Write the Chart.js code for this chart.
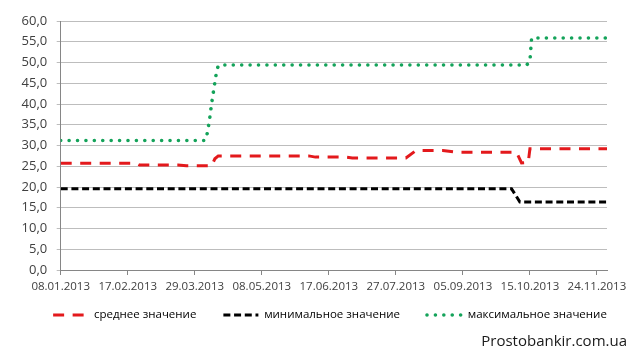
<!DOCTYPE html>
<html><head><meta charset="utf-8">
<script src="https://cdn.jsdelivr.net/npm/chart.js@4/dist/chart.umd.min.js"></script>
<style>
html,body{margin:0;padding:0;background:#fff}
#wrap{width:640px;height:359px;position:relative}
#wm{position:absolute;right:13px;top:331px;font:15px/18px 'Open Sans','Liberation Sans',sans-serif;color:#1a1a1a;white-space:nowrap}
</style>
</head><body><div id="wrap"><canvas id="c" width="640" height="359"></canvas><div id="wm"></div></div>
<script>
const startDate = '08.01.2013';
const endDate = '30.11.2013';
const tickLabels = ['08.01.2013','17.02.2013','29.03.2013','08.05.2013','17.06.2013','27.07.2013','05.09.2013','15.10.2013','24.11.2013'];
const seriesNames = ['среднее значение','минимальное значение','максимальное значение'];

const avgDates  = ['08.01.2013','22.02.2013','24.02.2013','19.03.2013','24.03.2013','08.04.2013','10.04.2013','12.04.2013','05.06.2013','09.06.2013','27.06.2013','01.07.2013','02.08.2013','08.08.2013','24.08.2013','01.09.2013','07.10.2013','10.10.2013','14.10.2013','15.10.2013','30.11.2013'];
const avgValues = [25.7,25.7,25.3,25.3,25.1,25.1,26.8,27.5,27.5,27.2,27.2,27.0,27.0,28.8,28.8,28.4,28.4,25.8,25.9,29.2,29.2];

const minDates  = ['08.01.2013','04.10.2013','09.10.2013','30.11.2013'];
const minValues = [19.6,19.6,16.4,16.4];

const maxDates  = ['08.01.2013','04.04.2013','05.04.2013','06.04.2013','07.04.2013','08.04.2013','09.04.2013','10.04.2013','11.04.2013','12.04.2013','13.04.2013','13.10.2013','14.10.2013','15.10.2013','16.10.2013','30.11.2013'];
const maxValues = [31.2,31.2,32.0,34.2,36.8,40.0,42.6,45.2,47.8,49.2,49.4,49.4,49.8,50.3,55.9,55.9];

const watermark = 'Prostobankir.com.ua';
document.getElementById('wm').textContent = watermark;

function dayIndex(s){
  const p = s.split('.').map(Number);
  const q = startDate.split('.').map(Number);
  return Math.round((Date.UTC(p[2],p[1]-1,p[0]) - Date.UTC(q[2],q[1]-1,q[0]))/86400000);
}
function pts(dates, vals){ return dates.map((d,i)=>({x:dayIndex(d), y:vals[i]})); }

const FONT = "'Open Sans', 'Liberation Sans', sans-serif";
const TXT = '#404040';

// lift the legend so it sits closer to the axis labels (the legend padding also sets the gap between items)
const legendLift = {
  id: 'legendLift',
  afterLayout(chart) {
    const lg = chart.legend;
    if (lg) { lg.top -= 13.75; lg.bottom -= 13.75; }
  }
};

new Chart(document.getElementById('c'), {
  type: 'line',
  data: {
    datasets: [
      {label: seriesNames[0], yAxisID: 'y', data: pts(avgDates, avgValues), borderColor: '#e3191c', borderWidth: 3, borderDash: [11, 8.5], borderCapStyle: 'butt', pointRadius: 0, fill: false},
      {label: seriesNames[1], yAxisID: 'y', data: pts(minDates, minValues), borderColor: '#000000', borderWidth: 3, borderDash: [7, 3.7], borderCapStyle: 'butt', pointRadius: 0, fill: false},
      {label: seriesNames[2], yAxisID: 'y', data: pts(maxDates, maxValues), borderColor: '#14a35a', borderWidth: 3.6, borderDash: [0.01, 8.4], borderCapStyle: 'round', pointRadius: 0, fill: false}
    ]
  },
  plugins: [legendLift],
  options: {
    responsive: false,
    animation: false,
    devicePixelRatio: 1,
    layout: {padding: {top: 21, right: 0, left: 20, bottom: 14.5}},
    scales: {
      x: {
        type: 'linear', min: 0, max: dayIndex(endDate),
        afterBuildTicks: s => { s.ticks = tickLabels.map(l => ({value: dayIndex(l)})); },
        ticks: {autoSkip: false, maxRotation: 0, color: TXT, font: {family: FONT, size: 11.5}, padding: 5,
          callback: (v, i) => tickLabels[i]},
        grid: {drawOnChartArea: false, color: '#868686', tickLength: 5},
        border: {color: '#868686'},
        afterFit: s => { s.height = 26; }
      },
      y: {
        position: 'left',
        min: 0, max: 60,
        ticks: {stepSize: 5, color: TXT, font: {family: FONT, size: 13}, padding: 9.5,
          callback: v => v.toFixed(1).replace('.', ',')},
        grid: {color: '#bdbdbd', tickLength: 4},
        border: {color: '#868686'},
        afterFit: s => { s.width = 40.7; }
      },
      yR: {
        position: 'right', display: true, min: 0, max: 1,
        ticks: {display: false},
        grid: {display: false, drawTicks: false},
        border: {display: false},
        afterFit: s => { s.width = 33; }
      }
    },
    plugins: {
      legend: {
        position: 'bottom',
        labels: {
          usePointStyle: true, pointStyleWidth: 35, boxHeight: 11.5, padding: 27,
          color: TXT, font: {family: FONT, size: 11.5},
          generateLabels: chart => chart.data.datasets.map((ds, i) => ({
            text: ds.label, datasetIndex: i, pointStyle: 'line',
            strokeStyle: ds.borderColor, fillStyle: ds.borderColor, lineWidth: ds.borderWidth,
            lineDash: ds.borderDash, lineCap: ds.borderCapStyle, hidden: false
          }))
        }
      },
      tooltip: {enabled: false}
    }
  }
});
</script></body></html>
